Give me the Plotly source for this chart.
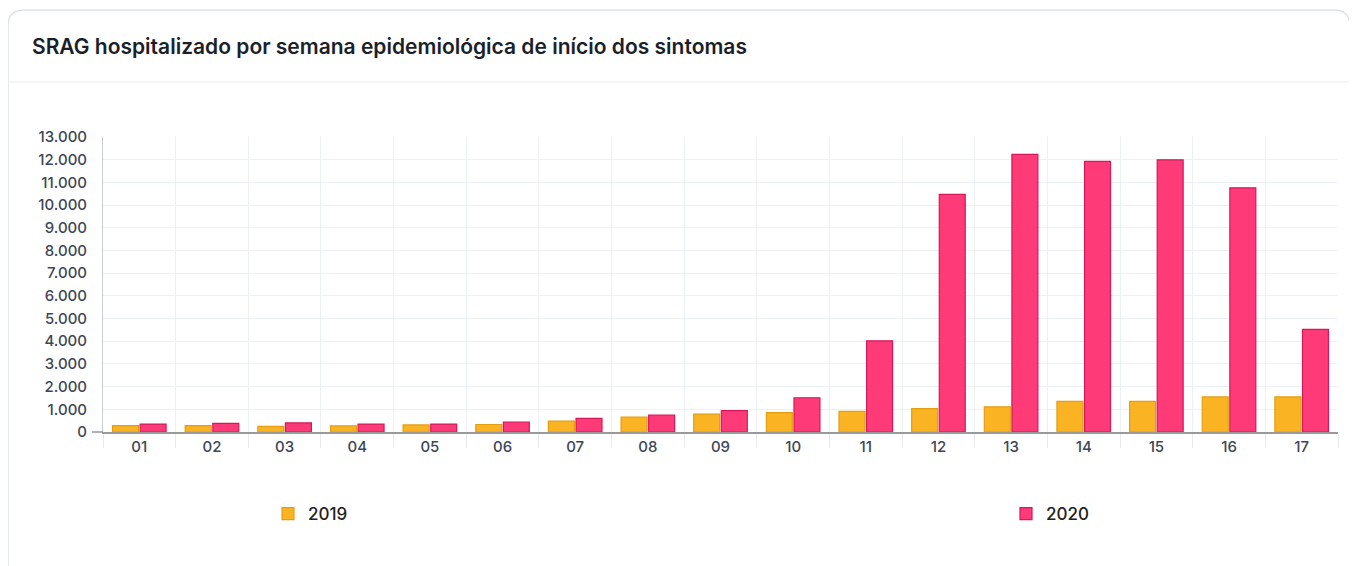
import plotly.graph_objects as go

# Semanas epidemiológicas e casos de SRAG hospitalizados
semanas = ["01", "02", "03", "04", "05", "06", "07", "08", "09", "10",
           "11", "12", "13", "14", "15", "16", "17"]
casos_2019 = [280, 280, 250, 270, 310, 330, 480, 660, 790, 850,
              910, 1030, 1110, 1350, 1350, 1545, 1550]
casos_2020 = [350, 380, 400, 350, 350, 440, 600, 750, 940, 1510,
              4020, 10470, 12230, 11925, 11995, 10760, 4520]
y_ticks = list(range(0, 13001, 1000))

# the page body has an 8px margin, so screen positions are shifted by 8
OFF = 8
W, H = 1357, 566
L, R, T, B = 103 - OFF, W - (1338 - OFF), 137 - OFF, H - (432 - OFF)
PW, PH = W - L - R, H - T - B


def px(x):
    return (x - OFF - L) / PW


def py(y):
    return (H - B - (y - OFF)) / PH


fig = go.Figure()
fig.add_trace(go.Bar(
    x=semanas, y=casos_2019, name="2019", legend="legend",
    marker=dict(color="#F9B323", line=dict(color="#E39E12", width=1.2)),
))
fig.add_trace(go.Bar(
    x=semanas, y=casos_2020, name="2020", legend="legend2",
    marker=dict(color="#FF3A78", line=dict(color="#D4185A", width=1.2)),
))

# card border with rounded corners + title separator
r = 16
x0, x1, y0, y1 = 8, 1350, 10, 620
card = (f"M {px(x0)},{py(y1)} L {px(x0)},{py(y0 + r)} "
        f"Q {px(x0)},{py(y0)} {px(x0 + r)},{py(y0)} "
        f"L {px(x1 - r)},{py(y0)} Q {px(x1)},{py(y0)} {px(x1)},{py(y0 + r)} "
        f"L {px(x1)},{py(y1)}")
shapes = [
    dict(type="path", path=card, xref="paper", yref="paper",
         line=dict(color="#DDE3EA", width=1.5), layer="below"),
    dict(type="line", xref="paper", yref="paper", x0=px(x0), x1=px(x1),
         y0=py(82), y1=py(82), line=dict(color="#E8ECF1", width=1)),
    # small tick at zero on the value axis
    dict(type="line", xref="paper", yref="paper", x0=px(92), x1=px(103),
         y0=py(432), y1=py(432), line=dict(color="#9A9A9A", width=1.5)),
]

legend_style = dict(orientation="h", xanchor="left", yanchor="middle",
                    font=dict(size=17, color="#222222", weight=500),
                    bgcolor="rgba(0,0,0,0)")

fig.update_layout(
    width=W, height=H,
    margin=dict(l=L, r=R, t=T, b=B),
    paper_bgcolor="white", plot_bgcolor="white",
    font=dict(family="Inter, Lato, sans-serif", color="#3C4858"),
    separators=",.",
    title=dict(text="SRAG hospitalizado por semana epidemiológica de início dos sintomas",
               x=(32 - OFF) / W, xref="container", xanchor="left",
               y=1 - (47 - OFF) / H, yref="container", yanchor="middle",
               font=dict(size=21, color="#1B1F2A", weight=600)),
    barmode="group", bargap=0.24, bargroupgap=0.06,
    showlegend=True,
    legend=dict(x=px(288 - 20), y=py(514), **legend_style),
    legend2=dict(x=px(1026 - 20), y=py(514), **legend_style),
    shapes=shapes,
)
fig.update_xaxes(
    type="category", tickson="boundaries", ticks="outside", ticklen=14,
    tickcolor="#E6EAF0", showgrid=True, gridcolor="#EDF0F4",
    showline=True, linecolor="#9A9A9A", linewidth=1.5,
    tickfont=dict(size=15, color="#3D4656", weight=500), fixedrange=True,
)
fig.update_yaxes(
    range=[0, 13000], tickvals=y_ticks, tickformat=",d",
    showgrid=True, gridcolor="#EDF0F4", zeroline=False,
    showline=True, linecolor="#C8CCD2", linewidth=1,
    ticks="", ticklabelstandoff=12,
    tickfont=dict(size=15, color="#3D4656", weight=500),
)

fig.write_html("out.html")
